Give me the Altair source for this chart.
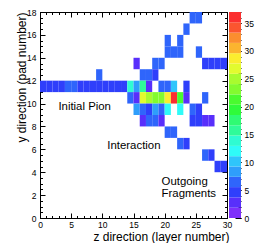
import altair as alt
import pandas as pd
import colorsys

# ---------------- data ----------------
pad_rows = [17, 16, 15, 14, 13, 12, 11, 10, 9, 8, 7, 6, 5, 4]
layer_cols = [
    [24, 25],
    [23],
    [20, 22],
    [20, 21, 22, 25],
    [15, 18, 19, 26, 27, 28, 29],
    [9, 16, 17, 18],
    [0, 1, 2, 3, 4, 5, 6, 7, 8, 9, 10, 11, 12, 13, 14, 15, 16, 17, 19, 20, 21, 23],
    [14, 15, 16, 17, 18, 19, 20, 21, 22, 23, 26],
    [15, 16, 17, 18, 19, 20, 22, 24, 25],
    [16, 17, 18, 19, 24, 25, 26, 27],
    [20, 21],
    [22, 23],
    [26, 27],
    [28, 29],
]
row_counts = [
    [6, 6],
    [6],
    [6, 6],
    [6, 6, 6, 6],
    [2.5, 6, 6, 4, 4, 4, 4],
    [6, 6, 6, 4],
    [4, 4, 4, 4, 6, 6, 4, 4, 4, 4, 4, 4, 4, 4, 13, 9, 16, 2.5, 6, 7, 10, 4],
    [6, 2.5, 26, 25, 23, 23, 29, 36, 21, 2.5, 6],
    [8.5, 6, 4.5, 8, 6, 12, 12, 6, 4.5],
    [2.5, 6, 6, 2.5, 4, 4, 3, 3],
    [6, 6],
    [6, 4],
    [6, 4],
    [4, 4],
]

z_major = [0, 5, 10, 15, 20, 25, 30]
z_minor = [0, 1, 2, 3, 4, 5, 6, 7, 8, 9, 10, 11, 12, 13, 14, 15, 16, 17, 18, 19,
           20, 21, 22, 23, 24, 25, 26, 27, 28, 29, 30]
y_major = [0, 2, 4, 6, 8, 10, 12, 14, 16, 18]
y_minor = [0, 0.5, 1, 1.5, 2, 2.5, 3, 3.5, 4, 4.5, 5, 5.5, 6, 6.5, 7, 7.5, 8, 8.5,
           9, 9.5, 10, 10.5, 11, 11.5, 12, 12.5, 13, 13.5, 14, 14.5, 15, 15.5,
           16, 16.5, 17, 17.5, 18]
c_major = [0, 5, 10, 15, 20, 25, 30, 35]
c_minor = [0, 1, 2, 3, 4, 5, 6, 7, 8, 9, 10, 11, 12, 13, 14, 15, 16, 17, 18, 19,
           20, 21, 22, 23, 24, 25, 26, 27, 28, 29, 30, 31, 32, 33, 34, 35, 36, 37]
z_max = 37

notes = ["Initial Pion", "Interaction", "Outgoing", "Fragments"]
note_z = [2.95, 10.8, 19.5, 19.5]
note_y = [9.45, 6.0, 2.88, 1.86]

# ---------------- tables ----------------
recs = []
for yy, cols, cnts in zip(pad_rows, layer_cols, row_counts):
    for zz, nn in zip(cols, cnts):
        recs.append({"z": zz, "y": yy, "n": nn})
df = pd.DataFrame(recs)

# ROOT "pretty" palette with 20 contour levels
n_levels = 20
colors = []
for k in range(n_levels):
    i = int((k + 0.99) * 50 / n_levels)
    hue = 280 - (i + 1) * 280 / 50
    r, g, b = colorsys.hls_to_rgb(hue / 360, 0.5, 1.0)
    f = 0.2
    r, g, b = [c * (1 - f) + f * 0.92 for c in (r, g, b)]
    colors.append("#%02x%02x%02x" % (round(r * 255), round(g * 255), round(b * 255)))

step = z_max / n_levels
levels = pd.DataFrame({
    "lo": [k * step for k in range(n_levels)],
    "hi": [(k + 1) * step for k in range(n_levels)],
    "mid": [(k + 0.5) * step for k in range(n_levels)],
})
notes_df = pd.DataFrame({"t": notes, "z": note_z, "y": note_y})

FONT = "Liberation Sans"
W, H = 187, 206
LBL = 8.5
BAR_X0, BAR_X1 = W + 2, W + 14   # colour bar placed just right of the frame

xs = alt.Scale(domain=[0, 30], nice=False, zero=False)
ys = alt.Scale(domain=[0, 18], nice=False, zero=False)
cys = alt.Scale(domain=[0, z_max], nice=False, zero=False)
cxs = alt.Scale(domain=[0, 1], range=[BAR_X0, BAR_X1], nice=False, zero=False)
cs = alt.Scale(type="quantize", domain=[0, z_max], range=colors)


def tick_axis(orient, values, size, offset):
    return alt.Axis(orient=orient, values=values, tickSize=size, offset=offset,
                    domain=False, grid=False, labels=False, title=None,
                    tickColor="black", tickWidth=1)


heat = alt.Chart(df).mark_rect().transform_calculate(
    z2="datum.z + 1", y2="datum.y + 1"
).encode(
    x=alt.X("z:Q", scale=xs, axis=alt.Axis(
        orient="bottom", values=z_major, tickSize=5, offset=-5, domain=False,
        grid=False, tickColor="black", labelFont=FONT, labelFontSize=LBL,
        labelColor="black", labelPadding=2, labelFlush=False, labelOverlap=False,
        title="z direction (layer number)", titleFont=FONT, titleFontSize=12,
        titleFontWeight="normal", titleColor="black", titleAlign="right",
        titleBaseline="alphabetic", titleX=189, titleY=27)),
    x2="z2:Q",
    y=alt.Y("y:Q", scale=ys, axis=alt.Axis(
        orient="left", values=y_major, tickSize=5, offset=-5, domain=False,
        grid=False, tickColor="black", labelFont=FONT, labelFontSize=LBL,
        labelColor="black", labelPadding=4, labelFlush=False, labelOverlap=False,
        title="y direction (pad number)", titleFont=FONT, titleFontSize=12,
        titleFontWeight="normal", titleColor="black", titleAlign="right",
        titleBaseline="alphabetic", titleAngle=270, titleX=-19.5, titleY=0)),
    y2="y2:Q",
    color=alt.Color("n:Q", scale=cs, legend=None),
)

minor_bl = alt.Chart(df).mark_point(opacity=0).encode(
    x=alt.X("z:Q", scale=xs, axis=tick_axis("bottom", z_minor, 2.5, -2.5)),
    y=alt.Y("y:Q", scale=ys, axis=tick_axis("left", y_minor, 2.5, -2.5)),
)
major_tr = alt.Chart(df).mark_point(opacity=0).encode(
    x=alt.X("z:Q", scale=xs, axis=tick_axis("top", z_major, 5, -5)),
    y=alt.Y("y:Q", scale=ys, axis=tick_axis("right", y_major, 5, -5)),
)
minor_tr = alt.Chart(df).mark_point(opacity=0).encode(
    x=alt.X("z:Q", scale=xs, axis=tick_axis("top", z_minor, 2.5, -2.5)),
    y=alt.Y("y:Q", scale=ys, axis=tick_axis("right", y_minor, 2.5, -2.5)),
)
text = alt.Chart(notes_df).mark_text(
    align="left", baseline="alphabetic", font=FONT, fontSize=11.4, color="black"
).encode(
    x=alt.X("z:Q", scale=xs, axis=None),
    y=alt.Y("y:Q", scale=ys, axis=None),
    text="t:N",
)

# colour bar (palette axis)
cbar_rect = alt.Chart(levels).mark_rect().transform_calculate(
    c0="0", c1="1"
).encode(
    x=alt.X("c0:Q", scale=cxs, axis=None),
    x2="c1:Q",
    y=alt.Y("lo:Q", scale=cys, axis=alt.Axis(
        orient="right", values=c_major, tickSize=6, offset=BAR_X1 - W - 6,
        domain=False, grid=False, tickColor="black", labelFont=FONT,
        labelFontSize=LBL, labelColor="black", labelPadding=3, labelFlush=False,
        labelOverlap=False, title=None)),
    y2="hi:Q",
    color=alt.Color("mid:Q", scale=cs, legend=None),
)
cbar_minor = alt.Chart(levels).mark_point(opacity=0).transform_calculate(
    c0="0"
).encode(
    x=alt.X("c0:Q", scale=cxs, axis=None),
    y=alt.Y("lo:Q", scale=cys, axis=tick_axis("right", c_minor, 3, BAR_X1 - W - 3)),
)

chart = alt.layer(
    heat, minor_bl, major_tr, minor_tr, text, cbar_rect, cbar_minor
).resolve_scale(
    x="independent", y="independent"
).properties(
    width=W, height=H,
    autosize=alt.AutoSizeParams(type="none"),
    padding={"left": 32, "top": 4, "right": 39, "bottom": 25},
).configure_view(stroke="black", strokeWidth=1)

chart.save("out.html", embed_options={"renderer": "svg", "actions": False})
